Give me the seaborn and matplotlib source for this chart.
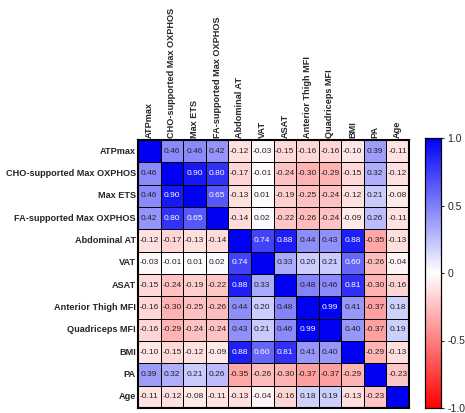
import numpy as np
import pandas as pd
import seaborn as sns
import matplotlib
matplotlib.use("Agg")
import matplotlib.pyplot as plt
from matplotlib.colors import LinearSegmentedColormap

labels = ["ATPmax", "CHO-supported Max OXPHOS", "Max ETS", "FA-supported Max OXPHOS",
          "Abdominal AT", "VAT", "ASAT", "Anterior Thigh MFI", "Quadriceps MFI",
          "BMI", "PA", "Age"]

r_atpmax = [1.00, 0.46, 0.46, 0.42, -0.12, -0.03, -0.15, -0.16, -0.16, -0.10, 0.39, -0.11]
r_cho    = [0.46, 1.00, 0.90, 0.80, -0.17, -0.01, -0.24, -0.30, -0.29, -0.15, 0.32, -0.12]
r_ets    = [0.46, 0.90, 1.00, 0.65, -0.13, 0.01, -0.19, -0.25, -0.24, -0.12, 0.21, -0.08]
r_fa     = [0.42, 0.80, 0.65, 1.00, -0.14, 0.02, -0.22, -0.26, -0.24, -0.09, 0.26, -0.11]
r_abd    = [-0.12, -0.17, -0.13, -0.14, 1.00, 0.74, 0.88, 0.44, 0.43, 0.88, -0.35, -0.13]
r_vat    = [-0.03, -0.01, 0.01, 0.02, 0.74, 1.00, 0.33, 0.20, 0.21, 0.60, -0.26, -0.04]
r_asat   = [-0.15, -0.24, -0.19, -0.22, 0.88, 0.33, 1.00, 0.48, 0.46, 0.81, -0.30, -0.16]
r_ant    = [-0.16, -0.30, -0.25, -0.26, 0.44, 0.20, 0.48, 1.00, 0.99, 0.41, -0.37, 0.18]
r_quad   = [-0.16, -0.29, -0.24, -0.24, 0.43, 0.21, 0.46, 0.99, 1.00, 0.40, -0.37, 0.19]
r_bmi    = [-0.10, -0.15, -0.12, -0.09, 0.88, 0.60, 0.81, 0.41, 0.40, 1.00, -0.29, -0.13]
r_pa     = [0.39, 0.32, 0.21, 0.26, -0.35, -0.26, -0.30, -0.37, -0.37, -0.29, 1.00, -0.23]
r_age    = [-0.11, -0.12, -0.08, -0.11, -0.13, -0.04, -0.16, 0.18, 0.19, -0.13, -0.23, 1.00]

cbar_ticks = [-1, -0.5, 0, 0.5, 1]
cbar_tick_labels = ["-1.0", "-0.5", "0", "0.5", "1.0"]

rows = [r_atpmax, r_cho, r_ets, r_fa, r_abd, r_vat, r_asat, r_ant, r_quad, r_bmi, r_pa, r_age]
mat = np.array(rows)
df = pd.DataFrame(mat, index=labels, columns=labels)
n = len(labels)

annot = np.array([[("" if i == j else f"{mat[i, j]:.2f}") for j in range(n)]
                  for i in range(n)])

cmap = LinearSegmentedColormap.from_list("rwb", ["#FF0000", "#FFFFFF", "#0000F5"])

sns.set_style("white")
plt.rcParams['font.family'] = ['Liberation Sans', 'DejaVu Sans']

W, H = 465, 413
fig = plt.figure(figsize=(W / 100, H / 100), dpi=100)
ax = fig.add_axes([138 / W, (H - 408) / H, 271 / W, 268 / H])
cax = fig.add_axes([425 / W, (H - 408) / H, 16 / W, 270 / H])

sns.heatmap(df, ax=ax, cbar_ax=cax, cmap=cmap, vmin=-1, vmax=1,
            annot=annot, fmt="", annot_kws={"fontsize": 6.0},
            linewidths=0.7, linecolor="black", square=False)

k = 0
for i in range(n):
    for j in range(n):
        t = ax.texts[k]
        k += 1
        t.set_color("white" if mat[i, j] >= 0.55 else "#222222")

ax.xaxis.tick_top()
ax.set_xticklabels(labels, rotation=90, fontsize=6.6, fontweight="bold")
ax.set_yticklabels(labels, rotation=0, fontsize=6.6, fontweight="bold")
ax.tick_params(length=0, pad=1.5)
for s in ax.spines.values():
    s.set_visible(True)
    s.set_color("black")
    s.set_linewidth(1.5)

cax.set_yticks(cbar_ticks)
cax.set_yticklabels(cbar_tick_labels)
cax.tick_params(direction="inout", length=5, width=0.8, labelsize=7.5, pad=2)
for s in cax.spines.values():
    s.set_visible(True)
    s.set_color("black")
    s.set_linewidth(0.8)

fig.savefig("out.png", dpi=100)
